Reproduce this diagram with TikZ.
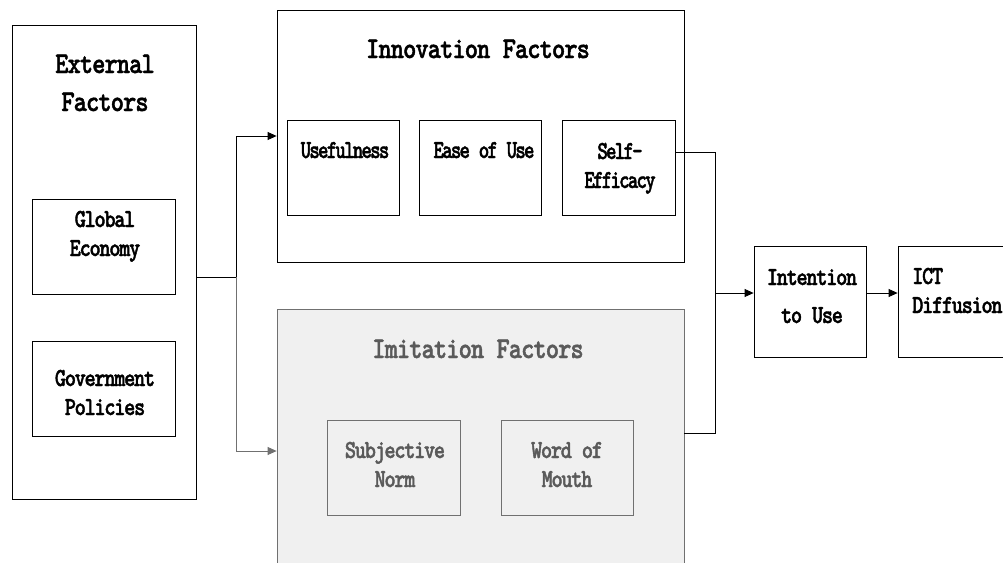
\documentclass[tikz,border=0pt]{standalone}
\usepackage{fontspec}
\usetikzlibrary{arrows.meta}
% condensed, tightly tracked, heavy slab-serif lettering for the model
\newfontfamily\titlefont{lmmonolt10-bold.otf}[FakeStretch=0.84,LetterSpace=-3,FakeBold=1.5]
\newfontfamily\boxfont{lmmonolt10-bold.otf}[FakeStretch=0.82,LetterSpace=-5,FakeBold=1.5]
\newfontfamily\tightfont{lmmonolt10-bold.otf}[FakeStretch=0.77,LetterSpace=-7,FakeBold=1.5]
\definecolor{fadeline}{HTML}{707070}
\definecolor{fadetext}{HTML}{5A5A5A}
\definecolor{fadefill}{HTML}{F0F0F0}
\begin{document}
\begin{tikzpicture}[x=1pt,y=-1pt,
  frame/.style={draw, line width=0.8pt, rectangle, inner sep=0pt},
  ttl/.style={anchor=base, align=center, inner sep=0pt, font=\titlefont\fontsize{30}{38}\selectfont},
  lbl/.style={anchor=base, align=center, inner sep=0pt, font=\boxfont\fontsize{26}{29}\selectfont},
  tlbl/.style={lbl, font=\tightfont\fontsize{26}{29}\selectfont},
  faded/.style={draw=fadeline, text=fadetext},
  link/.style={line width=0.8pt},
  tip/.style={-{Triangle[length=9pt,width=8pt]}}]
\useasboundingbox (0,0) rectangle (1003,562);

% external factors (multi-line labels sit on their last baseline)
\node[frame, minimum width=184, minimum height=474] (ext) at (104,262) {};
\node[ttl] (extT) at (105,111) {External\\Factors};
\node[frame, minimum width=143, minimum height=95] (eco) at (103.5,246.5) {};
\node[lbl] (ecoT) at (105,256) {Global\\Economy};
\node[frame, minimum width=143, minimum height=95] (gov) at (103.5,388.5) {};
\node[lbl] (govT) at (105,415) {Government\\Policies};

% innovation factors
\node[frame, minimum width=407, minimum height=252] (inn) at (480.5,136) {};
\node[ttl] (innT) at (478,58) {Innovation Factors};
\node[frame, minimum width=112, minimum height=95] (use) at (343,167.5) {};
\node[tlbl] (useT) at (345,158) {Usefulness};
\node[frame, minimum width=122, minimum height=95] (ease) at (480,167.5) {};
\node[tlbl] (easeT) at (484,158) {Ease of Use};
\node[frame, minimum width=113, minimum height=95] (self) at (618.5,167.5) {};
\node[tlbl] (selfT) at (620,188) {Self-\\Efficacy};

% imitation factors
\node[frame, faded, fill=fadefill, minimum width=407, minimum height=284] (imi) at (480.5,451) {};
\node[ttl, text=fadetext] (imiT) at (478,358) {Imitation Factors};
\node[frame, faded, minimum width=133, minimum height=95] (subj) at (393.5,467.5) {};
\node[lbl, text=fadetext] (subjT) at (395,487) {Subjective\\Norm};
\node[frame, faded, minimum width=132, minimum height=95] (wom) at (567,467.5) {};
\node[lbl, text=fadetext] (womT) at (567,487) {Word of\\Mouth};

% outcome
\node[frame, minimum width=112, minimum height=111] (int) at (810,301.5) {};
\node[lbl, font=\boxfont\fontsize{26}{38}\selectfont] (intT) at (812,323) {Intention\\to Use};
\node[frame, minimum width=112, minimum height=111] (ict) at (954,301.5) {};
\node[lbl, align=left, anchor=base west] (ictT) at (912,313) {ICT\\Diffusion};

% connectors
\coordinate (split) at (236,277);
\coordinate (merge) at (715,293);
\draw[link] (ext.east |- split) -- (split);
\draw[link, tip] (split) |- (inn.west);
\draw[link, draw=fadeline, tip] (split) |- (imi.west);
\draw[link] ([yshift=15.5pt]self.east) -| (merge);
\draw[link] ([yshift=18pt]imi.east) -| (merge);
\draw[link, tip] (merge) -- (int.west |- merge);
\draw[link, tip] (int.east |- merge) -- (ict.west |- merge);
\end{tikzpicture}
\end{document}
